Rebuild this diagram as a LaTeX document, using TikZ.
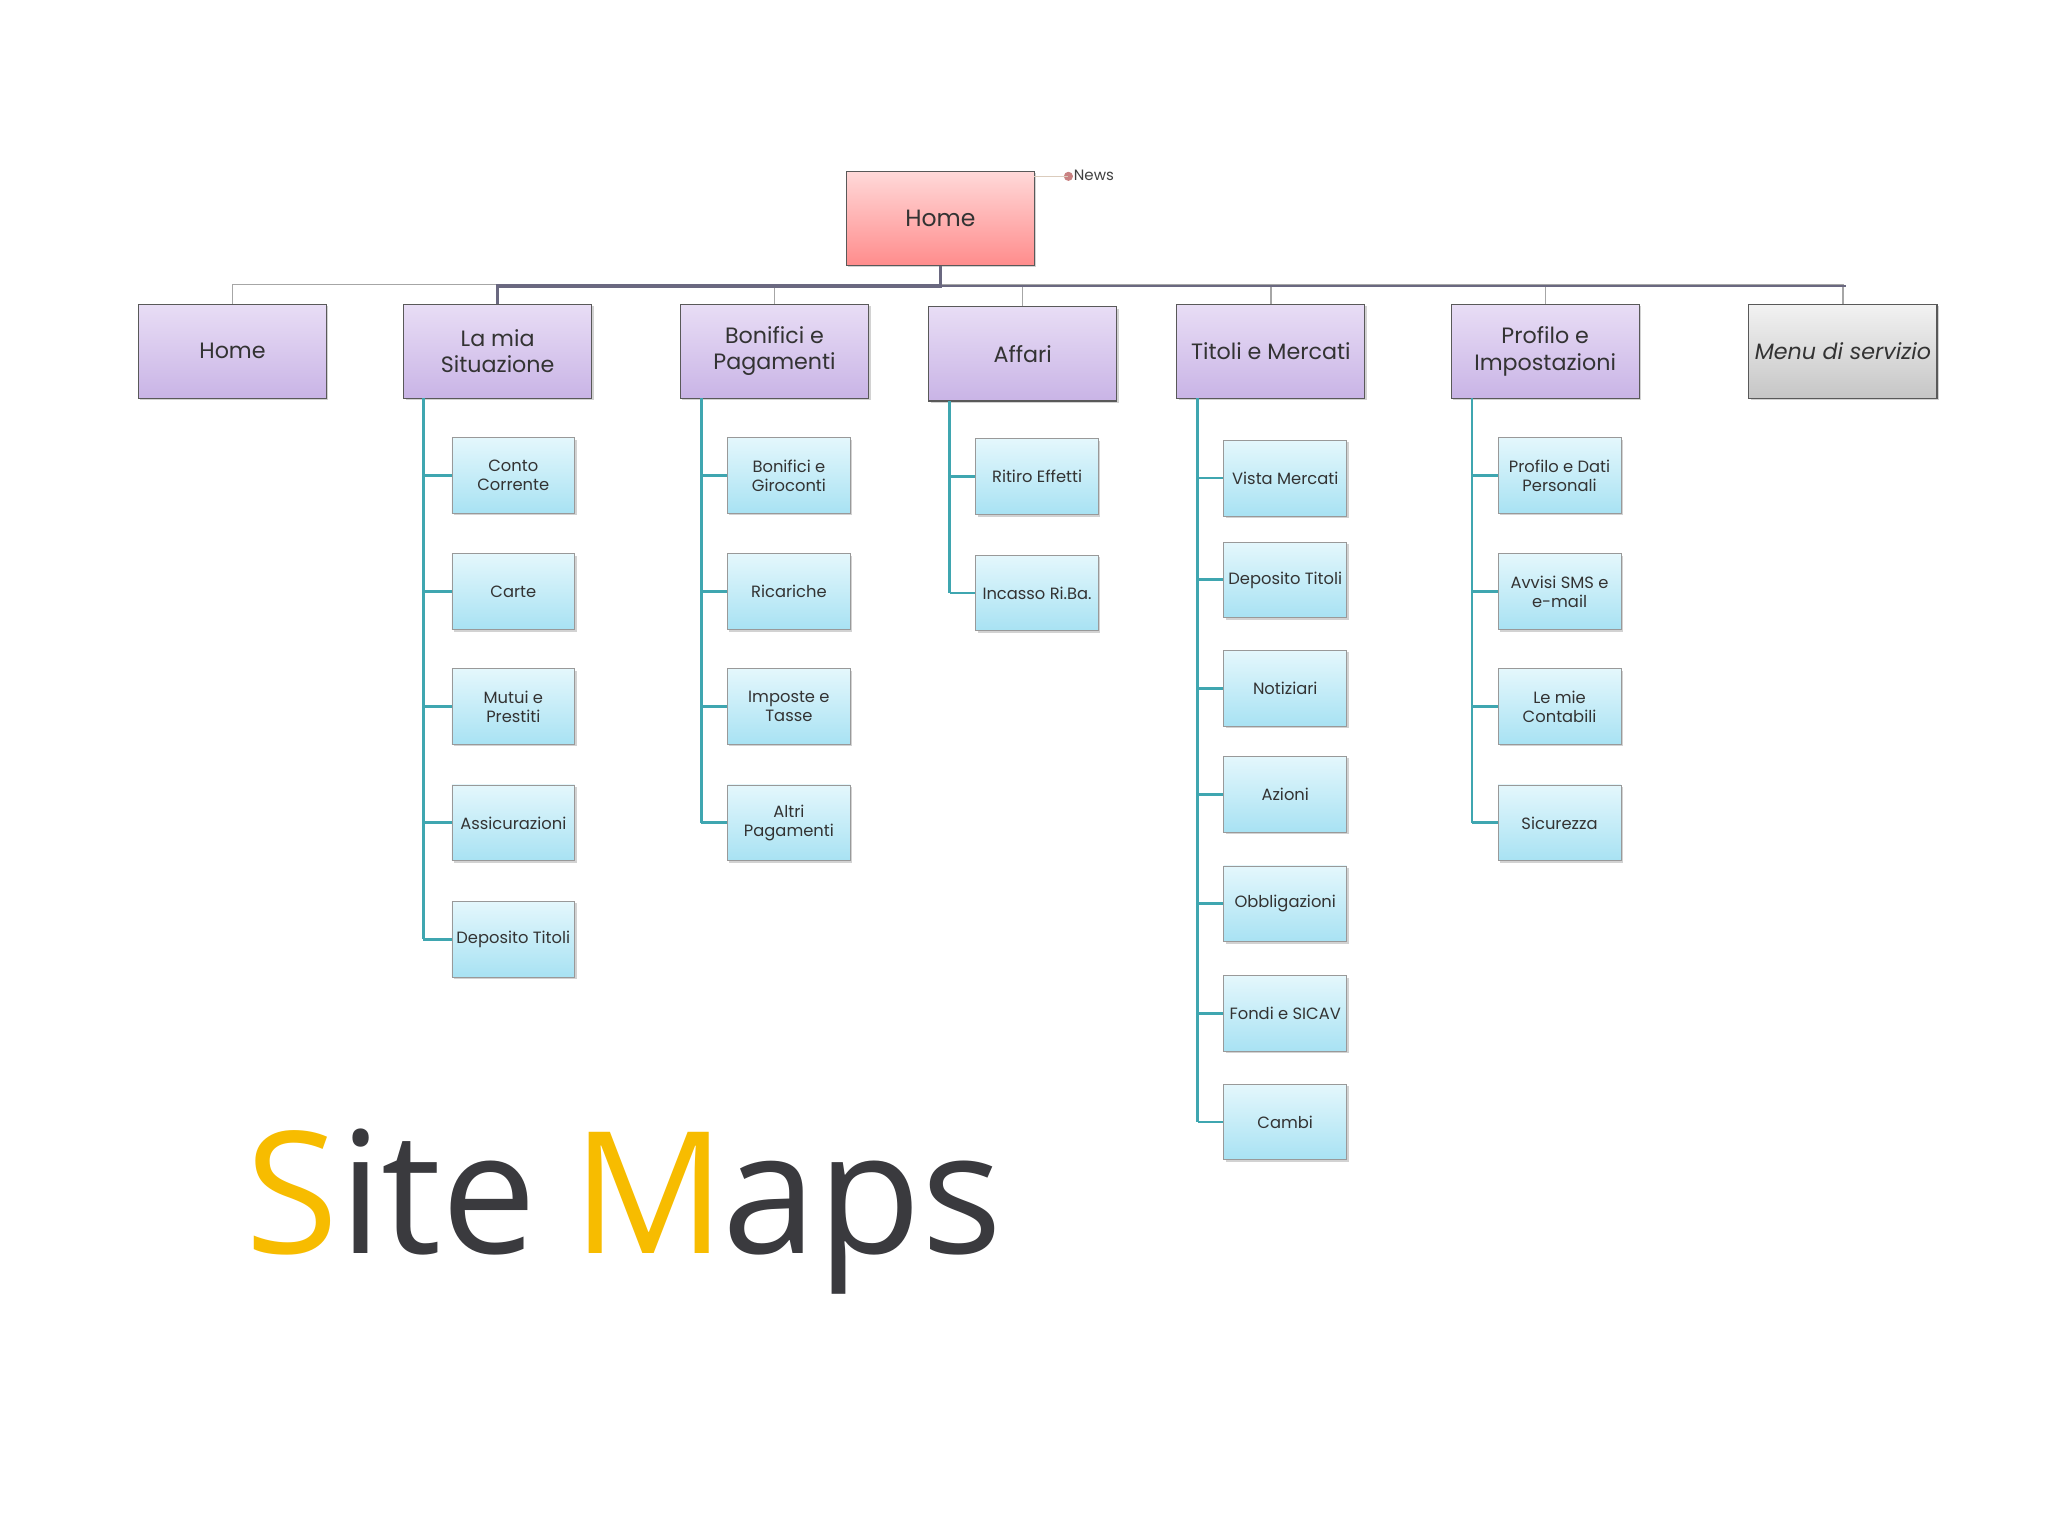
\documentclass[tikz,border=0pt]{standalone}
\usepackage{fontspec}
\setmainfont{Poppins}
\newfontfamily\titlefont{Open Sans}
\usetikzlibrary{shadows}
\definecolor{lvlA}{HTML}{E8DDF5}
\definecolor{lvlB}{HTML}{C9B4E6}
\definecolor{chA}{HTML}{E4F7FC}
\definecolor{chB}{HTML}{A8E2F3}
\definecolor{spine}{HTML}{3FA6B0}
\definecolor{busc}{HTML}{6A6880}
\definecolor{yel}{HTML}{F7BC00}
\definecolor{dk}{HTML}{3A3A3E}
\tikzset{
 lvl/.style={draw=gray!70!black, line width=0.8pt, minimum width=144pt, minimum height=72pt, top color=lvlA, bottom color=lvlB, align=center, font=\fontsize{17}{20}\selectfont, text=black!80, drop shadow={shadow xshift=1.5pt,shadow yshift=-1.5pt,opacity=.35}},
 chd/.style={draw=gray!80, line width=0.6pt, minimum width=94pt, minimum height=58pt, top color=chA, bottom color=chB, align=center, font=\fontsize{12.5}{14.5}\selectfont, text=black!80, inner sep=1pt, drop shadow={shadow xshift=1.5pt,shadow yshift=-1.5pt,opacity=.35}},
 sp/.style={spine, line width=2.2pt},
 bus/.style={busc, line width=1.2pt}
}
\begin{document}
\begin{tikzpicture}[x=1pt,y=-1pt]
\useasboundingbox (0,0) rectangle (1568,1176);
\fill[white] (0,0) rectangle (1568,1176);
% top
\node[draw=gray!70!black, line width=0.8pt, minimum width=144pt, minimum height=72pt, top color=red!15, bottom color=red!45, font=\fontsize{18}{20}\selectfont, text=black!80, drop shadow={shadow xshift=1.5pt,shadow yshift=-1.5pt,opacity=.35}] (home) at (720,167) {Home};
\coordinate (nw) at (792,135);
\fill[red!40!gray!70] (818,135) circle (3.5pt) coordinate (dot);
\draw[orange!30!gray!40, line width=0.8pt] (nw) -- (dot);
\node[anchor=west, inner sep=0pt, font=\fontsize{11.5}{12}\selectfont, text=black!75] (news) at (822,134) {News};
% level 1
\node[lvl] (l1) at (178,269) {Home};
\node[lvl] (l2) at (381,269) {La mia\\Situazione};
\node[lvl] (l3) at (593,269) {Bonifici e\\Pagamenti};
\node[lvl] (l4) at (783,271) {Affari};
\node[lvl] (l5) at (973,269) {Titoli e Mercati};
\node[lvl] (l6) at (1183,269) {Profilo e\\Impostazioni};
\node[lvl, top color=gray!10, bottom color=gray!45, font=\fontsize{17}{19}\selectfont\itshape] (l7) at (1411,269) {Menu di servizio};
% bus
\draw[gray!70, line width=1pt] (l1.north) -- ++(0,-15) -| (l7.north);
\foreach \n in {l3,l4,l5,l6}{\draw[gray!70, line width=1pt] (\n.north) -- (\n.north |- 0,219);}
\draw[busc, line width=2.5pt] (home.south) -- (720,219) -| (l2.north);
\draw[busc, line width=1.5pt] (720,219) -- (1413,219);
% children
\newcommand\kids[4]{% parent, spine x, child x, list
 \foreach \y/\t [count=\i] in {#4}{
  \node[chd] (#1c\i) at (#3,\y) {\t};
  \draw[sp] (#2,\y) -- (#1c\i.west);
 }
}
\kids{l2}{324}{393}{364/{Conto\\Corrente},453/Carte,541/{Mutui e\\Prestiti},630/Assicurazioni,719/Deposito Titoli}
\draw[sp] (324,305) -- (324,719);
\kids{l3}{537}{604}{364/{Bonifici e\\Giroconti},453/Ricariche,541/{Imposte e\\Tasse},630/{Altri\\Pagamenti}}
\draw[sp] (537,305) -- (537,630);
\kids{l4}{727}{794}{365/Ritiro Effetti,454/Incasso Ri.Ba.}
\draw[sp] (727,307) -- (727,454);
\kids{l5}{917}{984}{366/Vista Mercati,444/Deposito Titoli,527/Notiziari,608/Azioni,692/Obbligazioni,776/Fondi e SICAV,859/Cambi}
\draw[sp] (917,305) -- (917,859);
\kids{l6}{1127}{1194}{364/{Profilo e Dati\\Personali},453/{Avvisi SMS e\\e-mail},541/{Le mie\\Contabili},630/Sicurezza}
\draw[sp] (1127,305) -- (1127,630);
% title
\node[anchor=base west, inner sep=0pt, font=\titlefont\fontsize{130}{140}\selectfont, text=dk] (title) at (188,960) {\textcolor{yel}{S}ite\kern-0.05em\ \textcolor{yel}{M}\kern-0.02em aps};
\end{tikzpicture}
\end{document}
